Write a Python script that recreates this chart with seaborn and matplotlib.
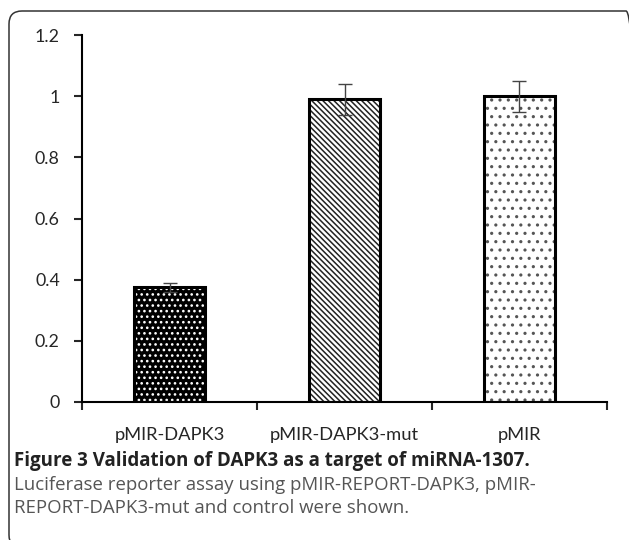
import matplotlib
matplotlib.use("Agg")
import matplotlib.pyplot as plt
import numpy as np
import pandas as pd
import seaborn as sns
from matplotlib.patches import FancyBboxPatch, Rectangle
from matplotlib.transforms import IdentityTransform

# data
constructs = ["pMIR-DAPK3", "pMIR-DAPK3-mut", "pMIR"]
activity = [0.375, 0.99, 1.0]
sem = [0.015, 0.05, 0.05]
yticks = [0, 0.2, 0.4, 0.6, 0.8, 1, 1.2]
ytick_labels = ["0", "0.2", "0.4", "0.6", "0.8", "1", "1.2"]

caption_title = "Figure 3 Validation of DAPK3 as a target of miRNA-1307."
caption_lines = ["Luciferase reporter assay using pMIR-REPORT-DAPK3, pMIR-",
                 "REPORT-DAPK3-mut and control were shown."]

df = pd.DataFrame({"construct": constructs, "activity": activity})

sns.set_style("white")
plt.rcParams["font.family"] = ["Lato", "DejaVu Sans"]
plt.rcParams["hatch.linewidth"] = 1.1

fig = plt.figure(figsize=(6.29, 5.4), dpi=100)
ax = fig.add_axes([0.1304, 0.2556, 0.965 - 0.1304, 0.935 - 0.2556])

sns.barplot(data=df, x="construct", y="activity", ax=ax, width=0.41,
            color="white", errorbar=None, saturation=1)

#bar styles: black with white dots, dense diagonal, sparse dots
faces = ["black", "white", "white"]
hatch_cols = ["white", "#222222", "#555555"]
hatches = ["...", "\\\\\\\\\\\\", ".."]
for p, fc, hc, h in zip(ax.patches, faces, hatch_cols, hatches):
    p.set_facecolor(fc)
    p.set_edgecolor(hc)
    p.set_hatch(h)
    p.set_linewidth(0)
    outline = Rectangle(p.get_xy(), p.get_width(), p.get_height(),
                        fill=False, edgecolor="black", linewidth=2.2, zorder=3)
    ax.add_patch(outline)

ax.errorbar(np.arange(len(constructs)), activity, yerr=sem, fmt="none",
            ecolor="#444444", elinewidth=1, capsize=5, capthick=1, zorder=4)

ax.set_ylim(0, 1.2)
ax.set_xlim(-0.5, 2.5)
ax.set_yticks(yticks)
ax.set_yticklabels(ytick_labels)
ax.set_xlabel("")
ax.set_ylabel("")
ax.set_xticks([-0.5, 0.5, 1.5, 2.5], minor=True)
ax.tick_params(axis="x", which="major", length=0, labelsize=13.2, pad=18)
ax.tick_params(axis="x", which="minor", length=6, width=1.5, direction="out", bottom=True)
ax.tick_params(axis="y", length=6, width=1.5, direction="out", left=True, labelsize=12.8, pad=10)
for s in ["top", "right"]:
    ax.spines[s].set_visible(False)
for s in ["left", "bottom"]:
    ax.spines[s].set_linewidth(1.5)
    ax.spines[s].set_color("black")

# rounded frame around chart + caption (pixel coords)
box = FancyBboxPatch((9, -8), 630, 537,
                     boxstyle="round,pad=0,rounding_size=13",
                     transform=IdentityTransform(), fill=False,
                     edgecolor="#333333", linewidth=1.1)
fig.patches.append(box)

fig.text(14 / 629, 1 - 461 / 540, caption_title, fontsize=13.5,
         fontweight="bold", family=["Open Sans", "DejaVu Sans"], color="#222222", va="center")
fig.text(14 / 629, 1 - 485 / 540, caption_lines[0], fontsize=13.4,
         family=["Open Sans", "DejaVu Sans"], color="#555555", va="center")
fig.text(14 / 629, 1 - 508 / 540, caption_lines[1], fontsize=13.4,
         family=["Open Sans", "DejaVu Sans"], color="#555555", va="center")

plt.savefig("out.png", dpi=100)
